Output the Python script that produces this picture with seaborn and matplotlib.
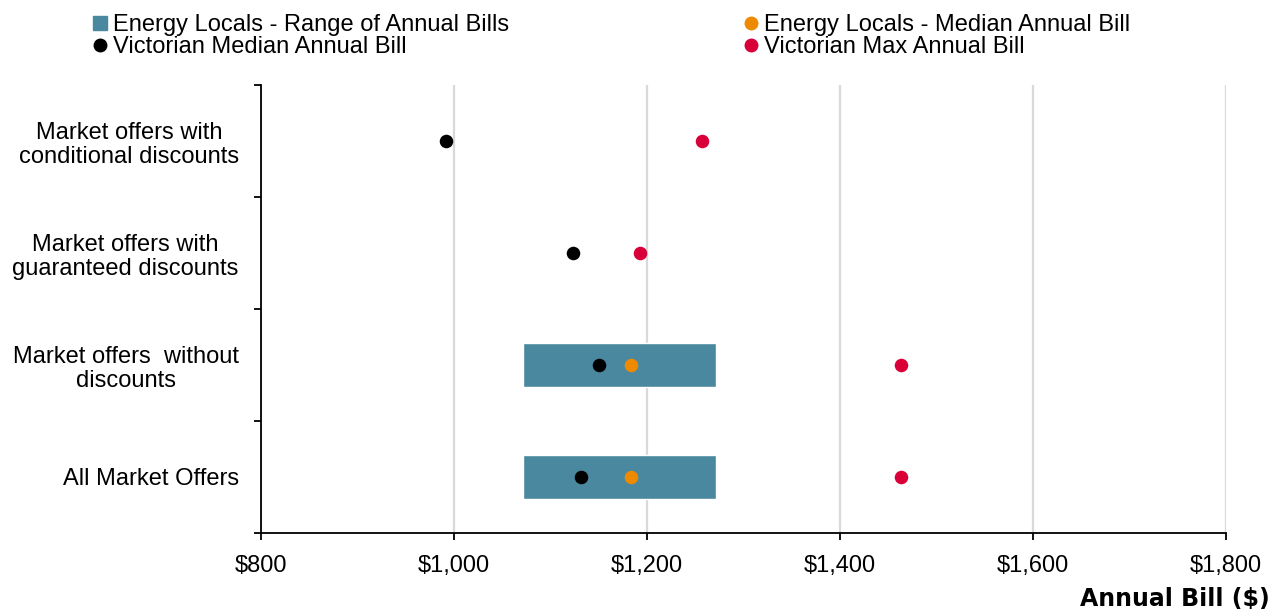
import numpy as np
import pandas as pd
import matplotlib.pyplot as plt
from matplotlib.lines import Line2D
import seaborn as sns

categorias = ["Market offers with\nconditional discounts",
              "Market offers with\nguaranteed discounts",
              "Market offers  without\ndiscounts",
              "All Market Offers"]
el_minimo = [np.nan, np.nan, 1072, 1072]
el_maximo = [np.nan, np.nan, 1271, 1271]
el_mediana = [np.nan, np.nan, 1183, 1183]
vic_mediana = [992, 1123, 1150, 1132]
vic_max = [1257, 1193, 1463, 1463]
ticks_x = [800, 1000, 1200, 1400, 1600, 1800]

dados = pd.DataFrame({'categoria': categorias, 'el_min': el_minimo, 'el_max': el_maximo,
                      'el_med': el_mediana, 'vic_med': vic_mediana, 'vic_max': vic_max})
dados['pos'] = range(len(dados))

cor_barra = '#4A889F'
cor_laranja = '#EE8A00'
cor_preto = '#000000'
cor_vermelho = '#D9003A'

sns.set_style("white")
plt.rcParams['font.family'] = ['Liberation Sans', 'DejaVu Sans']
plt.rcParams['font.size'] = 17
plt.rcParams['text.color'] = 'black'
plt.rcParams['xtick.color'] = 'black'
plt.rcParams['ytick.color'] = 'black'
plt.rcParams['xtick.labelcolor'] = 'black'
plt.rcParams['ytick.labelcolor'] = 'black'

fig = plt.figure(figsize=(12.84, 6.09), dpi=100)
ax = fig.add_axes([0.2033, 0.1248, 0.7515, 0.7356])

ax.barh(dados['pos'], dados['el_max'] - dados['el_min'], left=dados['el_min'],
        height=0.4, color=cor_barra, zorder=2)
sns.scatterplot(x='vic_med', y='pos', data=dados, color=cor_preto, s=95, linewidth=0, ax=ax, zorder=3)
sns.scatterplot(x='el_med', y='pos', data=dados, color=cor_laranja, s=95, linewidth=0, ax=ax, zorder=3)
sns.scatterplot(x='vic_max', y='pos', data=dados, color=cor_vermelho, s=95, linewidth=0, ax=ax, zorder=3)

ax.set_xlim(800, 1800)
ax.set_ylim(len(categorias) - 0.5, -0.5)
ax.set_xticks(ticks_x)
ax.set_xticklabels(['${:,}'.format(v) for v in ticks_x])
ax.grid(axis='x', color='#D9D9D9', linewidth=1.6)
ax.set_axisbelow(True)

ax.set_yticks(np.arange(-0.5, len(categorias), 1.0))
ax.set_yticklabels([])
ax.set_yticks(dados['pos'], minor=True)
ax.set_yticklabels(categorias, minor=True)
for rotulo in ax.get_yticklabels(minor=True):
    rotulo.set_multialignment('center')
    rotulo.set_linespacing(1.15)
    rotulo.set_color('black')
ax.tick_params(axis='y', which='minor', length=0, pad=16)
ax.tick_params(axis='y', which='major', direction='out', length=5, width=1.3, color='black', left=True)
ax.tick_params(axis='x', direction='out', length=5, width=1.3, color='black', bottom=True, pad=11,
               labelcolor='black')

for lado in ['top', 'right']:
    ax.spines[lado].set_visible(False)
for lado in ['left', 'bottom']:
    ax.spines[lado].set_color('black')
    ax.spines[lado].set_linewidth(1.3)
ax.set_xlabel('')
ax.set_ylabel('')

fig.text(0.989, -0.004, 'Annual Bill ($)', ha='right', va='bottom', color='black',
         fontsize=17, fontweight='bold', family='DejaVu Sans')

handles = [
    Line2D([], [], marker='s', linestyle='', color=cor_barra, markersize=10),
    Line2D([], [], marker='o', linestyle='', color=cor_preto, markersize=9),
    Line2D([], [], marker='o', linestyle='', color=cor_laranja, markersize=9),
    Line2D([], [], marker='o', linestyle='', color=cor_vermelho, markersize=9),
]
rotulos = ['Energy Locals - Range of Annual Bills', 'Victorian Median Annual Bill',
           'Energy Locals - Median Annual Bill', 'Victorian Max Annual Bill']
fig.legend(handles, rotulos, ncol=2, loc='upper left', bbox_to_anchor=(0.066, 0.992),
           frameon=False, handlelength=0.5, handletextpad=0.3, labelspacing=0.0,
           columnspacing=10.0, borderaxespad=0, fontsize=17, labelcolor='black')

plt.savefig('out.png', format='png', dpi=100)
